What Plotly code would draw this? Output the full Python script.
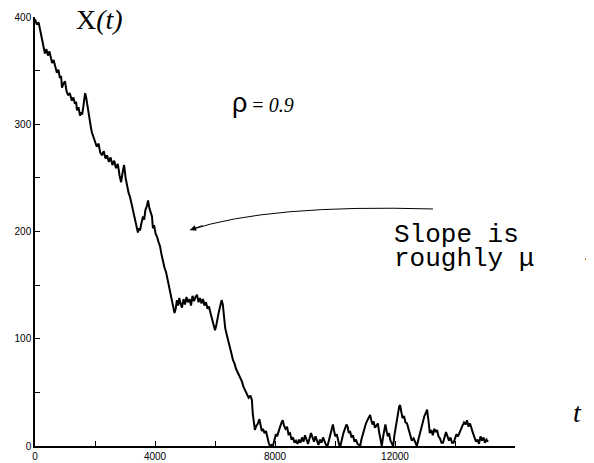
import plotly.graph_objects as go

# ---- data ----
t_vals = [
    0, 60, 120, 180, 230, 280, 330, 380, 430, 480, 530, 570, 620, 680, 730, 780, 830, 870, 900, 950,
    1000, 1050, 1100, 1160, 1230, 1280, 1330, 1370, 1400, 1450, 1500, 1540, 1570, 1610, 1640, 1670,
    1700, 1740, 1770, 1800, 1830, 1870, 1900,
    1950, 2000, 2060, 2120, 2170, 2230, 2290, 2350, 2400, 2460, 2520, 2580, 2640, 2700, 2760, 2820,
    2870, 2920, 2970, 3020, 3070,
    3120, 3170, 3220, 3270, 3320, 3370, 3430, 3470, 3500, 3550, 3600, 3640, 3680, 3730, 3770, 3810,
    3850, 3900, 3930, 3970, 4020, 4070, 4120, 4170,
    4220, 4270, 4320, 4370, 4420, 4470, 4520, 4570, 4610, 4650, 4690,
    4730, 4770, 4810, 4850, 4900, 4950, 5000, 5050, 5100, 5150, 5200, 5250, 5300, 5350, 5400, 5450,
    5500, 5550, 5600, 5650, 5700, 5750, 5800, 5850, 5900, 5950, 6000, 6040, 6080, 6120, 6170, 6220,
    6260, 6300,
    6340, 6390, 6430, 6470, 6500, 6550, 6600, 6650, 6700, 6750, 6800, 6850, 6900, 6950, 7000, 7070,
    7120, 7180, 7230, 7260, 7290, 7330, 7380, 7430, 7480, 7520, 7560, 7600, 7650, 7700, 7740, 7790,
    7830, 7880, 7930, 7980, 8030, 8070, 8120, 8170, 8220, 8260, 8300, 8350, 8400, 8450, 8500, 8550,
    8600, 8650, 8700, 8750,
    8800, 8850, 8900, 8950, 9000, 9050, 9100, 9150, 9200, 9250, 9300, 9350, 9400, 9450, 9500, 9550,
    9600, 9650, 9700, 9750,
    9800, 9850, 9900, 9930, 9970, 10010, 10060, 10100, 10140, 10180, 10230, 10280, 10330, 10380,
    10420, 10460, 10500, 10550, 10600, 10650, 10700, 10750, 10800, 10840, 10880, 10930, 10980, 11030,
    11080, 11120, 11170, 11210, 11250, 11290, 11330, 11380, 11430, 11470, 11510, 11560, 11600, 11640,
    11680, 11720, 11760, 11800, 11850, 11900, 11940, 11980, 12020, 12060, 12100, 12140, 12170, 12210,
    12250, 12300, 12350, 12400, 12450, 12500, 12560, 12620, 12680, 12730, 12780, 12830, 12880, 12930,
    12980, 13030, 13070, 13110, 13160, 13210, 13260, 13310, 13360, 13400, 13450, 13500, 13550, 13600,
    13650, 13700, 13750, 13800, 13850, 13900, 13950, 14000, 14050, 14100, 14150, 14200, 14250, 14300,
    14350, 14400, 14450, 14500, 14550, 14600, 14650, 14700, 14750, 14800, 14850, 14900, 14950, 15000,
    15050, 15100,
]
x_vals = [
    398, 393, 395, 386, 378, 372, 366, 370, 364, 368, 361, 357, 360, 352, 348, 351, 343, 345, 334, 338,
    340, 331, 327, 329, 322, 325, 319, 321, 313, 316, 308, 311, 309, 316, 321, 329,
    326, 318, 314, 306, 302, 296, 292,
    288, 284, 279, 282, 274, 271, 275, 268, 271, 265, 269, 262, 266, 259, 263, 252,
    246, 255, 262, 250, 242,
    236, 232, 225, 220, 212, 206, 199, 203, 201, 208, 214, 211, 220, 224, 229, 222,
    218, 214, 203, 206, 198, 195, 190, 186,
    178, 171, 166, 162, 155, 149, 144, 136, 129, 124, 128,
    136, 131, 138, 133, 129, 137, 132, 139, 134, 137, 131, 140, 135, 139, 141, 134,
    138, 133, 137, 131, 134, 128, 130, 124, 119, 114, 108, 112, 120, 124, 130, 136,
    132, 118,
    110, 104, 99, 93, 90, 86, 80, 77, 72, 69, 65, 63, 60, 55, 52, 49,
    45, 47, 43, 30, 22, 15, 19, 21, 25, 20, 14, 16, 12, 14, 8, 3,
    0, 1, 0, 6, 11, 9, 15, 18, 22, 24, 19, 16, 18, 11, 12, 6,
    8, 3, 5, 2,
    6, 3, 8, 4, 10, 6, 2, 7, 12, 8, 4, 9, 5, 1, 6, 3,
    8, 4, 1, 0,
    5, 12, 17, 20, 14, 9, 11, 5, 1, 0, 7, 12, 16, 20,
    18, 12, 14, 8, 10, 4, 6, 2, 1, 0, 6, 12, 17, 21,
    24, 27, 29, 24, 20, 23, 17, 19, 21, 13, 6, 0, 8, 15,
    20, 14, 9, 12, 5, 2, 0, 10, 18, 24, 31, 37, 38, 30,
    26, 28, 22, 21, 16, 11, 5, 7, 2, 0, 6, 12, 17, 22,
    28, 31, 34, 25, 12, 15, 10, 16, 13, 15, 9, 7, 3, 3,
    8, 13, 9, 5, 8, 3, 3, 7, 11, 9, 13, 15, 19, 22,
    20, 24, 18, 21, 15, 12, 8, 4, 6, 2, 9, 5, 8, 3,
    6, 4,
]

x_tick_vals = [0, 2000, 4000, 6000, 8000, 10000, 12000, 14000, 16000]
x_tick_text = ["0", "", "4000", "", "8000", "", "12000", "", ""]
y_tick_vals = [0, 50, 100, 150, 200, 250, 300, 350, 400]
y_tick_text = ["0", "", "100", "", "200", "", "300", "", "400"]

fig = go.Figure()
fig.add_trace(go.Scatter(
    x=t_vals, y=x_vals, mode="lines",
    line=dict(color="black", width=2),
    hoverinfo="skip", showlegend=False,
))

axis_common = dict(
    showline=True, linecolor="black", linewidth=1.5,
    ticks="inside", ticklen=5, tickwidth=1, tickcolor="black",
    showgrid=False, zeroline=False, automargin=False,
    tickfont=dict(family="Arial, Liberation Sans, sans-serif", size=10, color="black"),
)
fig.update_xaxes(range=[0, 16000], tickvals=x_tick_vals, ticktext=x_tick_text, **axis_common)
fig.update_yaxes(range=[0, 400], tickvals=y_tick_vals, ticktext=y_tick_text, **axis_common)

# curved arrow (quadratic bezier in data coordinates)
fig.add_shape(type="path", xref="x", yref="y",
              path="M 13267,221 Q 7767,225.6 5167,201.4",
              line=dict(color="black", width=1))
fig.add_annotation(x=5167, y=201.4, xref="x", yref="y", text="",
                   showarrow=True, arrowhead=2, arrowsize=1.2, arrowwidth=1,
                   arrowcolor="black", ax=14, ay=-5)

serif = "Times New Roman, Liberation Serif, serif"
mono = "Courier New, Liberation Mono, monospace"

fig.add_annotation(xref="paper", yref="paper", x=0.135, y=0.995,
                   text="X<i>(t)</i>", showarrow=False,
                   font=dict(family=serif, size=28, color="black"),
                   xanchor="center", yanchor="middle")
fig.add_annotation(xref="paper", yref="paper", x=0.475, y=0.80,
                   text="<span style='font-family:Arial, Liberation Sans, sans-serif;font-size:27px'>ρ</span> = <i>0.9</i>",
                   showarrow=False,
                   font=dict(family=serif, size=20, color="black"),
                   xanchor="center", yanchor="middle")
fig.add_annotation(xref="paper", yref="paper", x=1.131, y=0.077,
                   text="<i>t</i>", showarrow=False,
                   font=dict(family=serif, size=28, color="black"),
                   xanchor="center", yanchor="middle")
fig.add_annotation(x=11900, y=196.6, xref="x", yref="y",
                   text="Slope is", showarrow=False,
                   font=dict(family=mono, size=26, color="black"),
                   xanchor="left", yanchor="middle")
fig.add_annotation(x=11900, y=174.4, xref="x", yref="y",
                   text="roughly μ\u00a0\u00a0\u00a0-", showarrow=False,
                   font=dict(family=mono, size=26, color="black"),
                   xanchor="left", yanchor="middle")

# the page body adds an 8px offset; margins compensate so the plot area
# lands at x 35..515, y 17..446 of the window
fig.update_layout(
    width=594, height=463,
    margin=dict(l=27, r=87, t=9, b=25),
    plot_bgcolor="white", paper_bgcolor="white",
    showlegend=False,
)

fig.write_html("out.html")
